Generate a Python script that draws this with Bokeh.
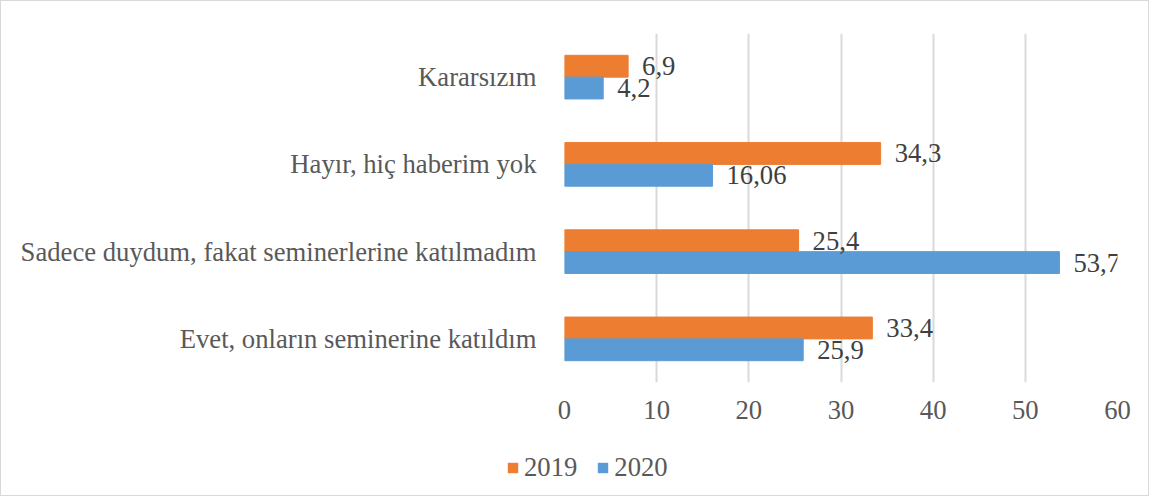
from bokeh.plotting import figure
from bokeh.models import ColumnDataSource, Legend, LegendItem
from bokeh.layouts import column
from bokeh.transform import dodge
from bokeh.core.properties import value
from bokeh.embed import file_html
from bokeh.resources import INLINE

categories = ["Evet, onların seminerine katıldım",
              "Sadece duydum, fakat seminerlerine katılmadım",
              "Hayır, hiç haberim yok",
              "Kararsızım"]
series = ["2019", "2020"]
v2019 = [33.4, 25.4, 34.3, 6.9]
v2020 = [25.9, 53.7, 16.06, 4.2]
lab2019 = ["33,4", "25,4", "34,3", "6,9"]
lab2020 = ["25,9", "53,7", "16,06", "4,2"]
x_ticks = [0, 10, 20, 30, 40, 50, 60]

FONT = "'Liberation Serif', 'Times New Roman', serif"
FS = "26.67px"
ORANGE = "#ED7D31"
BLUE = "#5B9BD5"
W = 1147

src = ColumnDataSource(dict(cat=categories, v2019=v2019, v2020=v2020,
                            l2019=lab2019, l2020=lab2020))

p = figure(width=W, height=440, y_range=categories, x_range=(0, 60),
           output_backend="svg", toolbar_location=None,
           min_border_left=563, min_border_right=W - 1116,
           min_border_top=32, min_border_bottom=59)

p.hbar(y=dodge("cat", 0.125, range=p.y_range), right="v2019", left=0,
       height=0.25, source=src, fill_color=ORANGE, line_color=ORANGE)
p.hbar(y=dodge("cat", -0.125, range=p.y_range), right="v2020", left=0,
       height=0.25, source=src, fill_color=BLUE, line_color=BLUE)

p.text(x="v2019", y=dodge("cat", 0.125, range=p.y_range), text="l2019", source=src,
       x_offset=14, text_baseline="middle", text_align="left",
       text_font=value(FONT), text_font_size=FS, text_color="#404040")
p.text(x="v2020", y=dodge("cat", -0.125, range=p.y_range), text="l2020", source=src,
       x_offset=14, text_baseline="middle", text_align="left",
       text_font=value(FONT), text_font_size=FS, text_color="#404040")

p.xaxis.ticker = x_ticks
p.xgrid.ticker = x_ticks
p.xgrid.grid_line_color = "#d9d9d9"
p.xgrid.grid_line_width = 2
p.ygrid.grid_line_color = None
p.outline_line_color = None

for ax in (p.xaxis[0], p.yaxis[0]):
    ax.axis_line_color = None
    ax.major_tick_line_color = None
    ax.minor_tick_line_color = None
    ax.major_label_text_font = FONT
    ax.major_label_text_font_size = FS
    ax.major_label_text_color = "#595959"
p.xaxis.major_label_standoff = 12
p.yaxis.major_label_standoff = 22

# legend strip below the chart
q = figure(width=W, height=54, x_range=(0, 1), y_range=(0, 1),
           output_backend="svg", toolbar_location=None,
           x_axis_location=None, y_axis_location=None,
           min_border=0, min_border_left=0, min_border_right=0,
           min_border_top=0, min_border_bottom=0)
q.grid.visible = False
q.outline_line_color = None

aligned = True
try:
    p.frame_align = False
    q.frame_align = False
    aligned = False
except AttributeError:
    pass

# legend proxies: zero-width bars, nothing visible in the strip itself
proxy = ColumnDataSource(dict(y=[0.5], right=[0]))
lr19 = q.hbar(y="y", right="right", left=0, height=0.01, source=proxy,
              fill_color=ORANGE, line_color=None)
lr20 = q.hbar(y="y", right="right", left=0, height=0.01, source=proxy,
              fill_color=BLUE, line_color=None)
legend = Legend(items=[LegendItem(label=series[0], renderers=[lr19]),
                       LegendItem(label=series[1], renderers=[lr20])],
                orientation="horizontal",
                location=(505, 12) if not aligned else "top_left",
                glyph_width=13, glyph_height=13, label_standoff=5, spacing=19,
                padding=0, margin=0, border_line_color=None,
                background_fill_alpha=0,
                label_text_font=FONT, label_text_font_size=FS,
                label_text_color="#595959")
q.add_layout(legend, "center")

layout = column(p, q, spacing=0)
layout.styles = {"border": "1px solid #d9d9d9"}

open("out.html", "w").write(file_html(layout, INLINE))
